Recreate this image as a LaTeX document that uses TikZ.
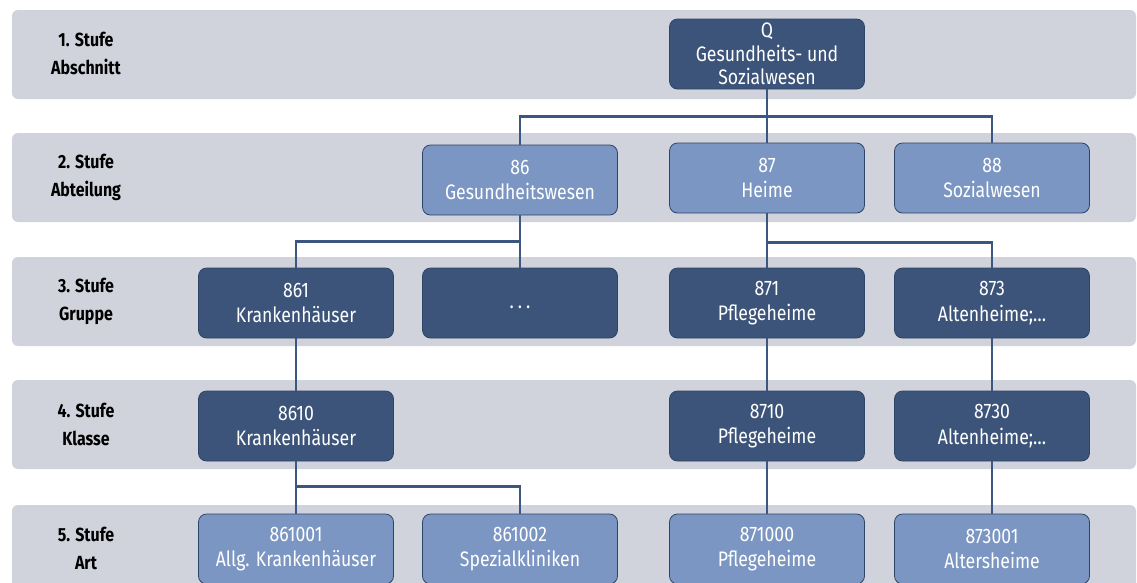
\documentclass[tikz,border=0pt]{standalone}
\usepackage{fontspec}
\setmainfont[FakeStretch=0.84]{Fira Sans}
\usetikzlibrary{positioning}
\definecolor{bandgrey}{HTML}{D0D3DB}
\definecolor{darkblue}{HTML}{3C5479}
\definecolor{lightblue}{HTML}{7B96C2}
\definecolor{edgeblue}{HTML}{2E4468}
\definecolor{lineblue}{HTML}{3B5680}
\tikzset{
	band/.style={fill=bandgrey, rounded corners=6pt},
	stufe/.style={align=center, text=black, font=\fontsize{19}{28}\selectfont\bfseries},
	box/.style={draw=edgeblue, line width=0.8pt, rounded corners=8pt, inner sep=2pt,
		minimum width=195pt, minimum height=70pt, align=center, text=white,
		font=\fontsize{21}{25.5}\selectfont},
	dark/.style={box, fill=darkblue},
	light/.style={box, fill=lightblue},
	link/.style={draw=lineblue, line width=2.2pt},
}
\begin{document}
\begin{tikzpicture}[x=1pt, y=-1pt]
				\useasboundingbox (0,0) rectangle (1137,582);
				\clip (0,0) rectangle (1137,582);
				% grey bands, one per level
				\foreach \t in {10,133,257,380,505}
					\fill[band] (12,\t) rectangle (1136,\t+89);
				
				\node[stufe] (s1) at (86,53) {1. Stufe\\Abschnitt};
				\node[stufe] (s2) at (86,177) {2. Stufe\\Abteilung};
				\node[stufe] (s3) at (86,301) {3. Stufe\\Gruppe};
				\node[stufe] (s4) at (86,424) {4. Stufe\\Klasse};
				\node[stufe] (s5) at (86,548) {5. Stufe\\Art};
				
				\node[dark, font=\fontsize{21}{23.5}\selectfont] (q) at (767,54) {Q\\Gesundheits- und\\Sozialwesen};
				
				\node[light] (a86) at (520,180) {86\\Gesundheitswesen};
				\node[light] (a87) at (767,178) {87\\Heime};
				\node[light] (a88) at (992,178) {88\\Sozialwesen};
				
				\node[dark] (g861) at (296,303) {861\\Krankenhäuser};
				\node[dark, text height=10pt, text depth=0pt] (gdots) at (520,303) {.\hspace{4pt}.\hspace{4pt}.};
				\node[dark] (g871) at (767,303) {871\\Pflegeheime};
				\node[dark] (g873) at (992,303) {873\\Altenheime;…};
				
				\node[dark] (k8610) at (296,426) {8610\\Krankenhäuser};
				\node[dark] (k8710) at (767,426) {8710\\Pflegeheime};
				\node[dark] (k8730) at (992,426) {8730\\Altenheime;…};
				
				\node[light] (a861001) at (296,549) {861001\\Allg. Krankenhäuser};
				\node[light] (a861002) at (520,549) {861002\\Spezialkliniken};
				\node[light] (a871000) at (767,549) {871000\\Pflegeheime};
				\node[light] (a873001) at (992,549) {873001\\Altersheime};
				
				% connectors
				\draw[link] (q.south) -- ++(0,27) -| (a86.north);
				\draw[link] (q.south) -- ++(0,27) -| (a88.north);
				\draw[link] (q.south) -- (a87.north);
				
				\draw[link] (a86.south) -- ++(0,26) -| (g861.north);
				\draw[link] (a86.south) -- (gdots.north);
				\draw[link] (a87.south) -- (g871.north);
				\draw[link] (a87.south) -- ++(0,29) -| (g873.north);
				
				\draw[link] (g861.south) -- (k8610.north);
				\draw[link] (g871.south) -- (k8710.north);
				\draw[link] (g873.south) -- (k8730.north);
				
				\draw[link] (k8610.south) -- ++(0,25) -| (a861002.north);
				\draw[link] (k8610.south) -- (a861001.north);
				\draw[link] (k8710.south) -- (a871000.north);
				\draw[link] (k8730.south) -- (a873001.north);
			\end{tikzpicture}
\end{document}
